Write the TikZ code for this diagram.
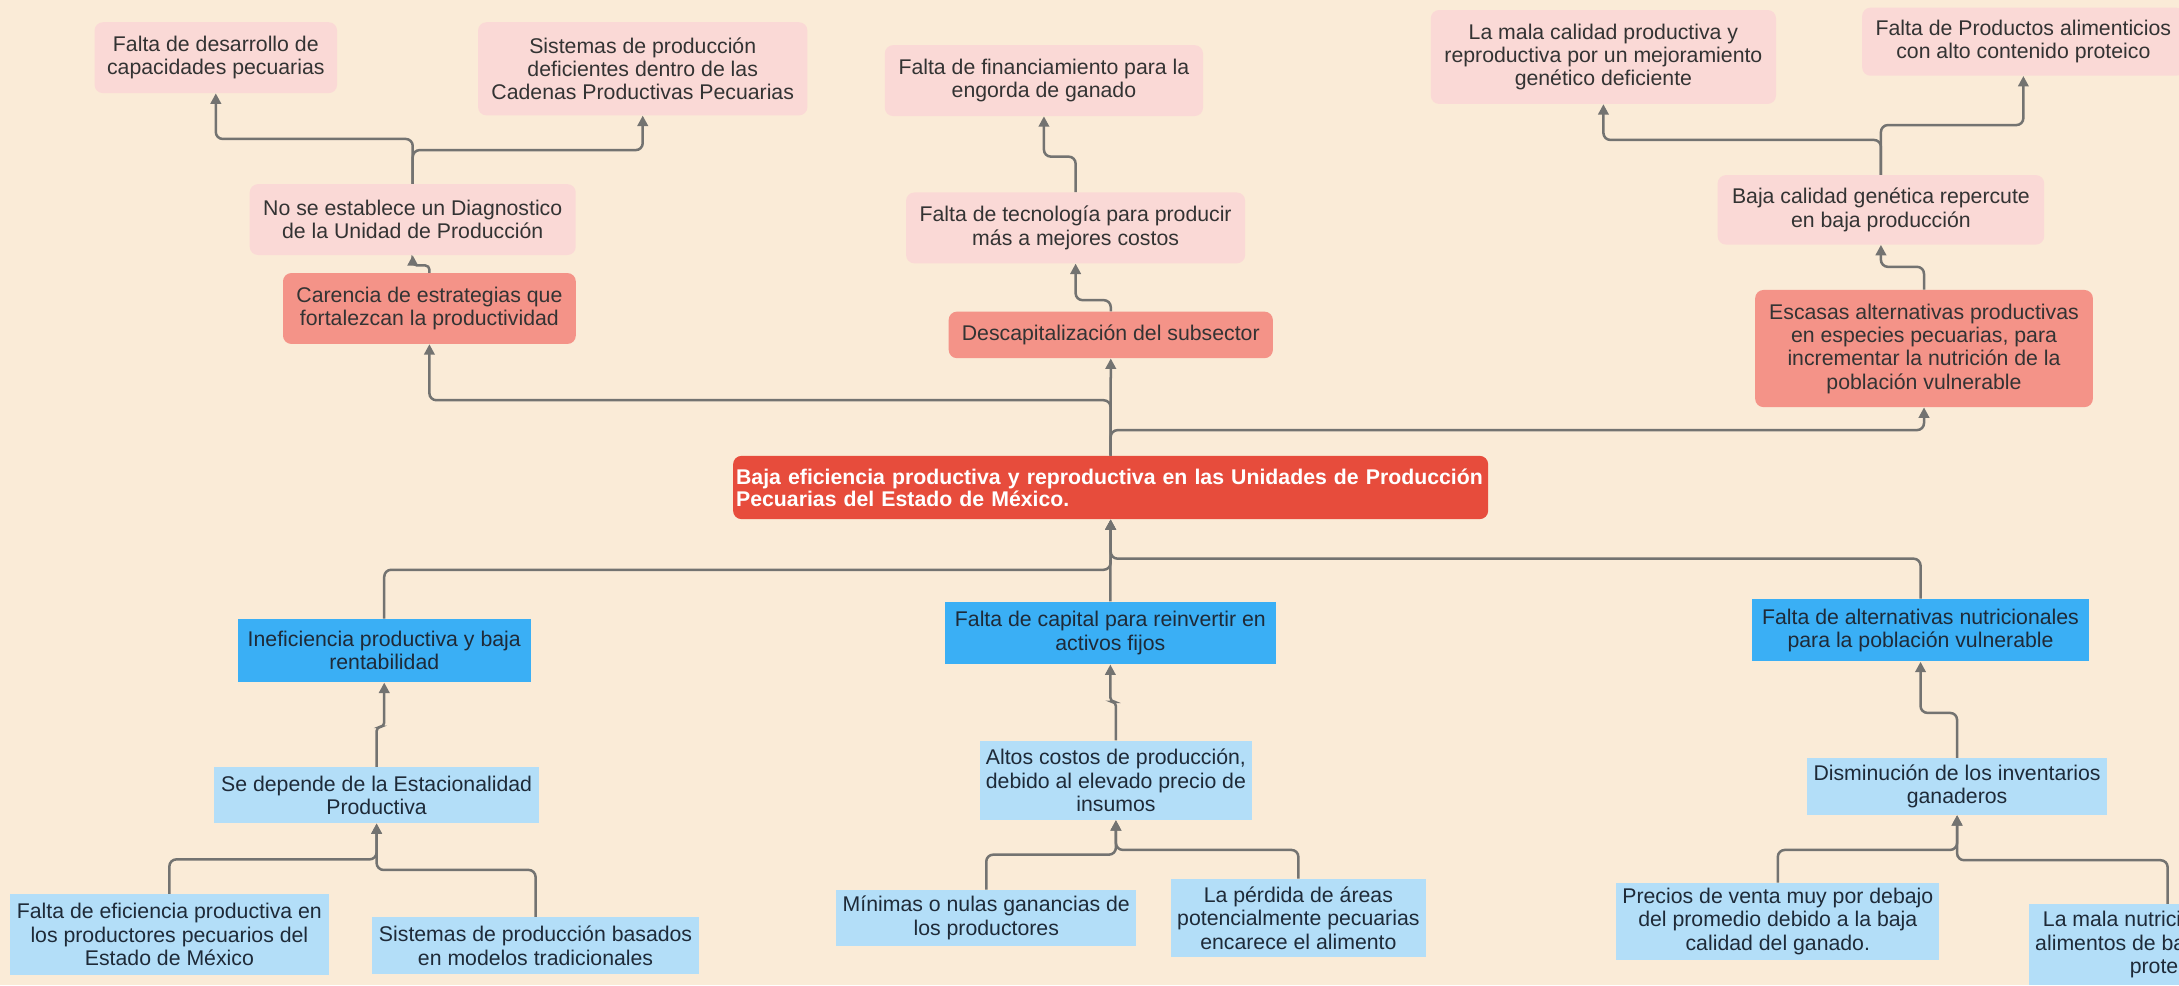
\documentclass[tikz,border=0pt]{standalone}
\usepackage{fontspec}
\setmainfont{Liberation Sans}
\usetikzlibrary{arrows.meta}
\definecolor{bgc}{RGB}{250,235,215}
\definecolor{pinkc}{RGB}{250,217,214}
\definecolor{salc}{RGB}{244,147,136}
\definecolor{redc}{RGB}{231,76,60}
\definecolor{bluec}{RGB}{58,175,245}
\definecolor{lbluec}{RGB}{179,222,248}
\definecolor{linec}{RGB}{115,115,113}
\definecolor{txt}{RGB}{51,51,51}
\definecolor{btxt}{RGB}{30,42,56}
\begin{document}
\begin{tikzpicture}[x=1pt,y=-1pt,
  box/.style={inner sep=0pt, align=center, font=\fontsize{15.3}{16.8}\selectfont, text=txt},
  pinkbox/.style={box, fill=pinkc, rounded corners=6pt},
  salbox/.style={box, fill=salc, rounded corners=6pt},
  bluebox/.style={box, fill=bluec, text=btxt},
  lbluebox/.style={box, fill=lbluec, text=btxt},
  conn/.style={draw=linec, line width=1.8pt, rounded corners=5pt, -{Triangle[length=7.5pt,width=7.5pt]}},
  sconn/.style={conn, rounded corners=3pt},
]
\useasboundingbox (0,0) rectangle (1568,709);
\clip (0,0) rectangle (1568,709);
\fill[bgc] (0,0) rectangle (1568,709);

% top rows (effects)
\node[pinkbox, minimum width=174.5pt, minimum height=51pt] (p1) at (155.3,41.5) {Falta de desarrollo de\\capacidades pecuarias};
\node[pinkbox, minimum width=237pt, minimum height=67pt] (p2) at (462.5,49.5) {Sistemas de producción\\deficientes dentro de las\\Cadenas Productivas Pecuarias};
\node[pinkbox, minimum width=229pt, minimum height=51pt] (p3) at (751.2,58) {Falta de financiamiento para la\\engorda de ganado};
\node[pinkbox, minimum width=248.4pt, minimum height=67.6pt] (p4) at (1153.8,41) {La mala calidad productiva y\\reproductiva por un mejoramiento\\genético deficiente};
\node[pinkbox, minimum width=232pt, minimum height=49pt] (p5) at (1456,30) {Falta de Productos alimenticios\\con alto contenido proteico};
\node[pinkbox, minimum width=234.6pt, minimum height=51pt] (p6) at (297,158) {No se establece un Diagnostico\\de la Unidad de Producción};
\node[pinkbox, minimum width=244pt, minimum height=51pt] (p7) at (774,164) {Falta de tecnología para producir\\más a mejores costos};
\node[pinkbox, minimum width=235pt, minimum height=50pt] (p8) at (1353.5,151) {Baja calidad genética repercute\\en baja producción};

\node[salbox, minimum width=210.7pt, minimum height=51pt] (s1) at (309,222) {Carencia de estrategias que\\fortalezcan la productividad};
\node[salbox, minimum width=233.3pt, minimum height=33.5pt] (s2) at (799.3,241) {Descapitalización del subsector};
\node[salbox, minimum width=243pt, minimum height=84.3pt] (s3) at (1384.5,250.8) {Escasas alternativas productivas\\en especies pecuarias, para\\incrementar la nutrición de la\\población vulnerable};

% central problem
\node[fill=redc, rounded corners=6pt, minimum width=543.3pt, minimum height=45.5pt, inner sep=0pt, text width=539pt, align=left, text=white, font=\bfseries\fontsize{15.3}{15.8}\selectfont] (c) at (799.2,350.8) {Baja eficiencia productiva y reproductiva en las Unidades de Producción\\Pecuarias del Estado de México.};

% causes
\node[bluebox, minimum width=211pt, minimum height=45.6pt] (b1) at (276.5,468.2) {Ineficiencia productiva y baja\\rentabilidad};
\node[bluebox, minimum width=238.5pt, minimum height=45pt] (b2) at (799,455.5) {Falta de capital para reinvertir en\\activos fijos};
\node[bluebox, minimum width=242pt, minimum height=45pt] (b3) at (1382,453.5) {Falta de alternativas nutricionales\\para la población vulnerable};

\node[lbluebox, minimum width=234pt, minimum height=40.4pt] (l1) at (271,572.2) {Se depende de la Estacionalidad\\Productiva};
\node[lbluebox, minimum width=196pt, minimum height=57pt] (l2) at (803,561.5) {Altos costos de producción,\\debido al elevado precio de\\insumos};
\node[lbluebox, minimum width=215.4pt, minimum height=40.8pt] (l3) at (1408.3,566) {Disminución de los inventarios\\ganaderos};
\node[lbluebox, minimum width=230pt, minimum height=58.3pt] (l4) at (121.9,672.5) {Falta de eficiencia productiva en\\los productores pecuarios del\\Estado de México};
\node[lbluebox, minimum width=235.2pt, minimum height=41pt] (l5) at (385.4,680.5) {Sistemas de producción basados\\en modelos tradicionales};
\node[lbluebox, minimum width=216.2pt, minimum height=40.3pt] (l6) at (709.7,660.5) {Mínimas o nulas ganancias de\\los productores};
\node[lbluebox, minimum width=183.4pt, minimum height=56.4pt] (l7) at (934.3,660.7) {La pérdida de áreas\\potencialmente pecuarias\\encarece el alimento};
\node[lbluebox, minimum width=232.6pt, minimum height=55.3pt] (l8) at (1279.3,663) {Precios de venta muy por debajo\\del promedio debido a la baja\\calidad del ganado.};
\node[lbluebox, minimum width=199pt, minimum height=58pt] (l9) at (1559.8,679.7) {La mala nutrición debido a\\alimentos de bajo contenido\\proteico};

% connectors, upper half
\draw[conn] (c.north) -- (c.north |- 0,288) -- (s1.south |- 0,288) -- (s1.south);
\draw[conn] (c.north) -- (s2.south);
\draw[conn] (c.north) -- (c.north |- 0,309.5) -- (s3.south |- 0,309.5) -- (s3.south);
\draw[sconn] (s1.north) -- (s1.north |- 0,191) -- (p6.south |- 0,191) -- (p6.south);
\draw[conn] (p6.north) -- (p6.north |- 0,100) -- (p1.south |- 0,100) -- (p1.south);
\draw[conn] (p6.north) -- (p6.north |- 0,108) -- (p2.south |- 0,108) -- (p2.south);
\draw[conn] (s2.north) -- (s2.north |- 0,216) -- (p7.south |- 0,216) -- (p7.south);
\draw[conn] (p7.north) -- (p7.north |- 0,112.7) -- (p3.south |- 0,112.7) -- (p3.south);
\draw[conn] (s3.north) -- (s3.north |- 0,192) -- (p8.south |- 0,192) -- (p8.south);
\draw[conn] (p8.north) -- (p8.north |- 0,100.7) -- (p4.south |- 0,100.7) -- (p4.south);
\draw[conn] (p8.north) -- (p8.north |- 0,90) -- (p5.south |- 0,90) -- (p5.south);

% connectors, lower half
\draw[conn] (b1.north) -- (b1.north |- 0,410) -- (c.south |- 0,410) -- (c.south);
\draw[conn] (b2.north) -- (c.south);
\draw[conn] (b3.north) -- (b3.north |- 0,402) -- (c.south |- 0,402) -- (c.south);
\draw[sconn] (l1.north) -- (l1.north |- 0,523) -- (b1.south |- 0,523) -- (b1.south);
\draw[conn] (l4.north) -- (l4.north |- 0,618.4) -- (l1.south |- 0,618.4) -- (l1.south);
\draw[conn] (l5.north) -- (l5.north |- 0,626) -- (l1.south |- 0,626) -- (l1.south);
\draw[sconn] (l2.north) -- (l2.north |- 0,505) -- (b2.south |- 0,505) -- (b2.south);
\draw[conn] (l6.north) -- (l6.north |- 0,615) -- (l2.south |- 0,615) -- (l2.south);
\draw[conn] (l7.north) -- (l7.north |- 0,611.6) -- (l2.south |- 0,611.6) -- (l2.south);
\draw[conn] (l3.north) -- (l3.north |- 0,513) -- (b3.south |- 0,513) -- (b3.south);
\draw[conn] (l8.north) -- (l8.north |- 0,611.6) -- (l3.south |- 0,611.6) -- (l3.south);
\draw[conn] (l9.north) -- (l9.north |- 0,619) -- (l3.south |- 0,619) -- (l3.south);
\end{tikzpicture}
\end{document}
